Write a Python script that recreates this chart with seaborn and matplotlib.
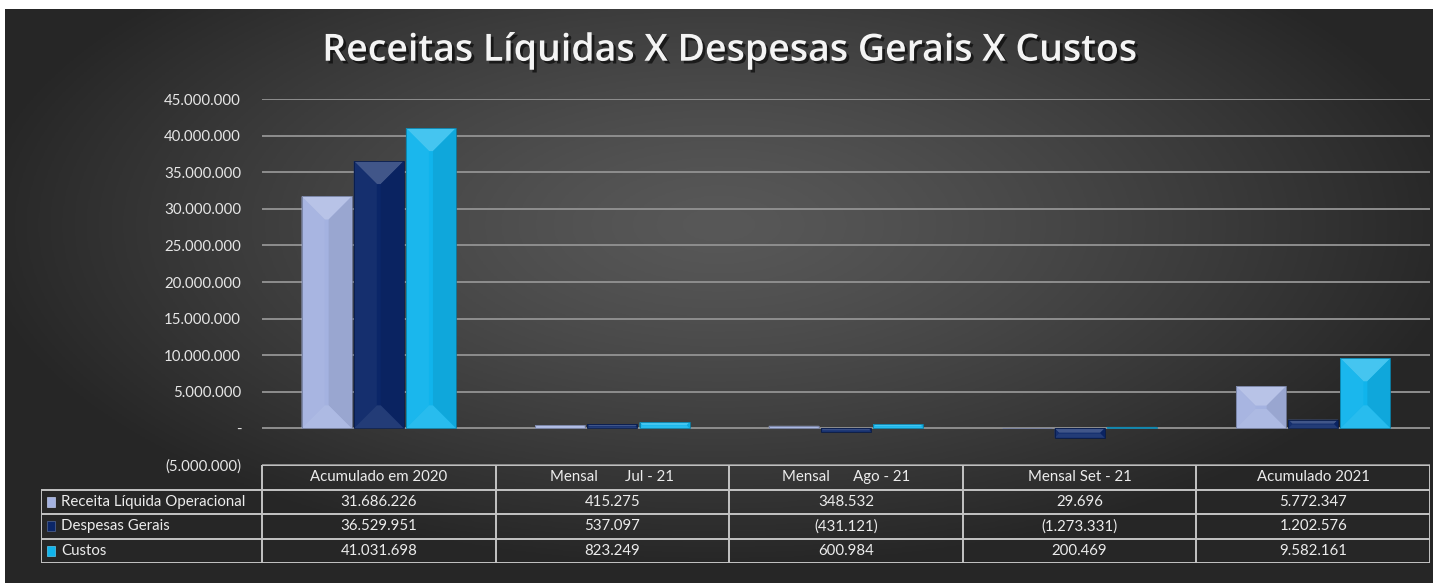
import matplotlib
matplotlib.use("Agg")
import matplotlib.pyplot as plt
import matplotlib.patheffects as pe
from matplotlib.colors import to_rgb
from matplotlib.patches import Polygon, Rectangle
from matplotlib.ticker import FuncFormatter, MultipleLocator
import numpy as np
import pandas as pd
import seaborn as sns

# chart values
periodos = ["Acumulado em 2020", "Mensal       Jul - 21", "Mensal      Ago - 21",
            "Mensal Set - 21", "Acumulado 2021"]
series = ["Receita Líquida Operacional", "Despesas Gerais", "Custos"]
receita = [31686226, 415275, 348532, 29696, 5772347]
despesas = [36529951, 537097, -431121, -1273331, 1202576]
custos = [41031698, 823249, 600984, 200469, 9582161]
cores = ["#a4b2e0", "#0b2668", "#10b4ec"]

W, H = 1433, 583


def fmt_br(v, pos=None):
    if v == 0:
        return "-"
    s = f"{abs(int(round(v))):,}".replace(",", ".")
    return f"({s})" if v < 0 else s


def mix(c, other, t):
    c = np.array(to_rgb(c))
    o = np.array(to_rgb(other))
    return tuple(c * (1 - t) + o * t)


df = pd.DataFrame({
    "periodo": periodos * 3,
    "serie": [s for s in series for _ in periodos],
    "valor": receita + despesas + custos,
})

sns.set_theme(style="dark")
plt.rcParams["font.family"] = ["Lato", "DejaVu Sans"]

fig = plt.figure(figsize=(W / 100, H / 100), dpi=100, facecolor="white")

# background with radial gradient
bg = fig.add_axes([5 / W, 0, 1 - 5 / W, 1 - 9 / H], zorder=-5)
gx, gy = np.meshgrid(np.linspace(-1, 1, 400), np.linspace(-1, 1, 200))
r = np.sqrt((gx / 1.05) ** 2 + ((gy + 0.25) / 1.2) ** 2)
r = np.clip(r, 0, 1)
lum = 0.345 - 0.195 * r ** 1.3
bg.imshow(np.dstack([lum, lum, lum]), aspect="auto", extent=(0, 1, 0, 1))
bg.set_axis_off()

ax = fig.add_axes([262 / W, 1 - 465 / H, 1168 / W, 366 / H])
ax.set_facecolor("none")
sns.barplot(data=df, x="periodo", y="valor", hue="serie", palette=cores,
            hue_order=series, order=periodos, width=0.67, gap=0.04,
            saturation=1, legend=False, ax=ax, zorder=3)

ax.set_ylim(-5_000_000, 45_000_000)
ax.set_xlim(-0.5, 4.5)
ax.yaxis.set_major_locator(MultipleLocator(5_000_000))
ax.yaxis.set_major_formatter(FuncFormatter(fmt_br))
ax.tick_params(axis="y", length=0, pad=15, labelsize=10.8, labelcolor="#e6e6e6")
ax.tick_params(axis="x", length=0, labelbottom=False)
ax.set_xlabel("")
ax.set_ylabel("")
for s in ax.spines.values():
    s.set_visible(False)
ax.yaxis.grid(True, color="#8e8e8e", linewidth=1.4)
ax.xaxis.grid(False)
ax.set_axisbelow(True)

# bevel facets on each bar
px_x = 1168 / 5.0
px_y = 366 / 50_000_000
for cont, cor in zip(ax.containers, cores):
    for bar in cont:
        x0 = bar.get_x()
        w = bar.get_width()
        y0 = min(bar.get_y(), bar.get_y() + bar.get_height())
        h = abs(bar.get_height())
        bar.set_edgecolor("none")
        w_px, h_px = w * px_x, h * px_y
        d_px = min(w_px / 2, h_px / 2) * 0.92
        dx, dy = d_px / px_x, d_px / px_y
        x1, y1 = x0 + w, y0 + h
        faces = [
            ([(x0, y1), (x1, y1), (x1 - dx, y1 - dy), (x0 + dx, y1 - dy)], mix(cor, "white", 0.22)),
            ([(x0, y0), (x0, y1), (x0 + dx, y1 - dy), (x0 + dx, y0 + dy)], mix(cor, "white", 0.04)),
            ([(x1, y0), (x1, y1), (x1 - dx, y1 - dy), (x1 - dx, y0 + dy)], mix(cor, "black", 0.07)),
            ([(x0, y0), (x1, y0), (x1 - dx, y0 + dy), (x0 + dx, y0 + dy)], mix(cor, "white", 0.1)),
        ]
        for pts, fc in faces:
            ax.add_patch(Polygon(pts, closed=True, facecolor=fc, edgecolor="none", zorder=4))
        ax.add_patch(Rectangle((x0, y0), w, h, fill=False,
                               edgecolor=mix(cor, "black", 0.3), linewidth=0.6, zorder=5))

# data table under the chart
tax = fig.add_axes([41 / W, 1 - 563 / H, 1389 / W, 98 / H])
lab_w = 221 / px_x
tax.set_xlim(-0.5 - lab_w, 4.5)
tax.set_ylim(4, 0)
tax.set_axis_off()
tax.patch.set_alpha(0)
line_kw = dict(color="#c4c4c4", linewidth=1.4, solid_capstyle="butt")
tax.plot([-0.5, 4.5], [0, 0], **line_kw)
for k in range(1, 5):
    tax.plot([-0.5 - lab_w, 4.5], [k, k], **line_kw)
tax.plot([-0.5 - lab_w, -0.5 - lab_w], [1, 4], **line_kw)
for k in range(6):
    tax.plot([k - 0.5, k - 0.5], [0, 4], **line_kw)

txt_kw = dict(color="#ececec", fontsize=10.8, va="center")
for i, p in enumerate(periodos):
    tax.text(i, 0.5, p, ha="center", **txt_kw)
valores = [receita, despesas, custos]
for r_i, (nome, vals, cor) in enumerate(zip(series, valores, cores)):
    yc = r_i + 1.5
    tax.add_patch(Rectangle((-0.5 - lab_w + 6 / px_x, yc - 0.2), 8 / px_x, 0.4,
                            facecolor=cor, edgecolor=mix(cor, "white", 0.3), linewidth=0.5))
    tax.text(-0.5 - lab_w + 20 / px_x, yc, nome, ha="left", **txt_kw)
    for i, v in enumerate(vals):
        tax.text(i, yc, fmt_br(v), ha="center", **txt_kw)

fig.text(0.509, 0.913, "Receitas Líquidas X Despesas Gerais X Custos",
         ha="center", va="center", color="#f4f4f4", fontsize=27, fontweight="semibold",
         family=["Open Sans", "DejaVu Sans"],
         path_effects=[pe.withSimplePatchShadow(offset=(2, -2), shadow_rgbFace="black", alpha=0.6)])

fig.savefig("out.png", dpi=100, facecolor=fig.get_facecolor())
